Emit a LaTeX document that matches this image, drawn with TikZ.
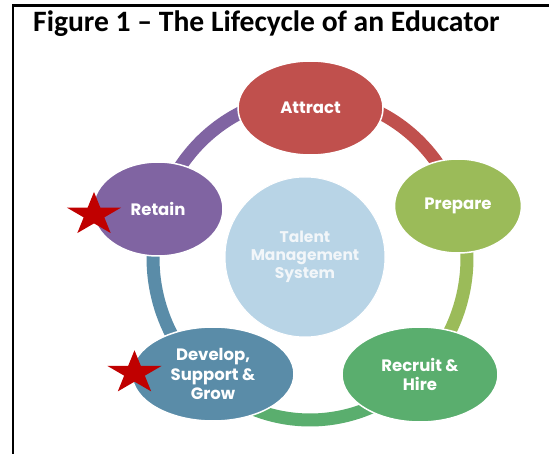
\documentclass[tikz,border=0pt]{standalone}
\usepackage{fontspec}
\usetikzlibrary{shapes.geometric}
\newfontfamily\titlefont{Carlito}
\newfontfamily\popfont{Poppins}
\definecolor{cRed}{HTML}{C0504D}
\definecolor{cOlive}{HTML}{9BBB59}
\definecolor{cGreen}{HTML}{5AAE6E}
\definecolor{cSteel}{HTML}{5A8CA8}
\definecolor{cPurple}{HTML}{8064A2}
\definecolor{cLight}{HTML}{B8D4E6}
\definecolor{cLightText}{HTML}{F2F6F9}
\definecolor{cStar}{HTML}{C00000}
\tikzset{
  stage/.style={ellipse, draw=white, line width=1.5pt, inner sep=0pt, minimum height=94pt,
    text=white, align=center, font=\popfont\bfseries\fontsize{16.5}{19.5}\selectfont},
  ring/.style={line width=13pt},
  starshape/.style={fill=cStar, draw=none},
}
\begin{document}
\begin{tikzpicture}[x=1pt,y=1pt]
\useasboundingbox (0,0) rectangle (549,-454);
\fill[white] (0,0) rectangle (549,-454);
% frame
\draw[line width=2.5pt] (13,-560) -- (13,-5.3) -- (620,-5.3);
% title
\node[anchor=base west, inner sep=0pt, font=\titlefont\bfseries\fontsize{29.6}{34}\selectfont] (title) at (33,-32) {Figure 1 – The Lifecycle of an Educator};
% ring
\coordinate (rc) at (310,-258);
\draw[ring, cRed] ([shift={(90:157 and 162)}]rc) arc[start angle=90, end angle=18.8, x radius=157, y radius=162];
\draw[ring, cOlive] ([shift={(18.8:157 and 162)}]rc) arc[start angle=18.8, end angle=-45.6, x radius=157, y radius=162];
\draw[ring, cGreen] ([shift={(-45.6:157 and 162)}]rc) arc[start angle=-45.6, end angle=-130.8, x radius=157, y radius=162];
\draw[ring, cSteel] ([shift={(-130.8:157 and 162)}]rc) arc[start angle=-130.8, end angle=-197.3, x radius=157, y radius=162];
\draw[ring, cPurple] ([shift={(162.7:157 and 162)}]rc) arc[start angle=162.7, end angle=90, x radius=157, y radius=162];
% center
\node[circle, fill=cLight, draw=white, line width=1pt, minimum size=160pt, inner sep=0pt, text=cLightText, align=center, font=\popfont\bfseries\fontsize{15.5}{18}\selectfont] (tms) at (305,-257) {Talent\\Management\\System};
% stages
\node[stage, fill=cRed, minimum width=145pt] (attract) at (310.5,-108) {Attract};
\node[stage, fill=cOlive, minimum width=127pt] (prepare) at (458,-206) {Prepare};
\node[stage, fill=cGreen, minimum width=156pt, minimum height=95pt] (recruit) at (420,-374.5) {Recruit \&\\Hire};
\node[stage, fill=cSteel, minimum width=162pt] (develop) at (213,-374) {Develop,\\Support \&\\Grow};
\node[stage, fill=cPurple, minimum width=130pt] (retain) at (158,-209) {Retain};
% stars
\fill[starshape, shift={(94,-214.7)}, yscale=0.8] (90:28.4) -- (126:10.85) -- (162:28.4) -- (198:10.85) -- (234:28.4) -- (270:10.85) -- (306:28.4) -- (342:10.85) -- (18:28.4) -- (54:10.85) -- cycle;
\fill[starshape, shift={(134.5,-373)}, yscale=0.8] (90:28.4) -- (126:10.85) -- (162:28.4) -- (198:10.85) -- (234:28.4) -- (270:10.85) -- (306:28.4) -- (342:10.85) -- (18:28.4) -- (54:10.85) -- cycle;
\end{tikzpicture}
\end{document}
